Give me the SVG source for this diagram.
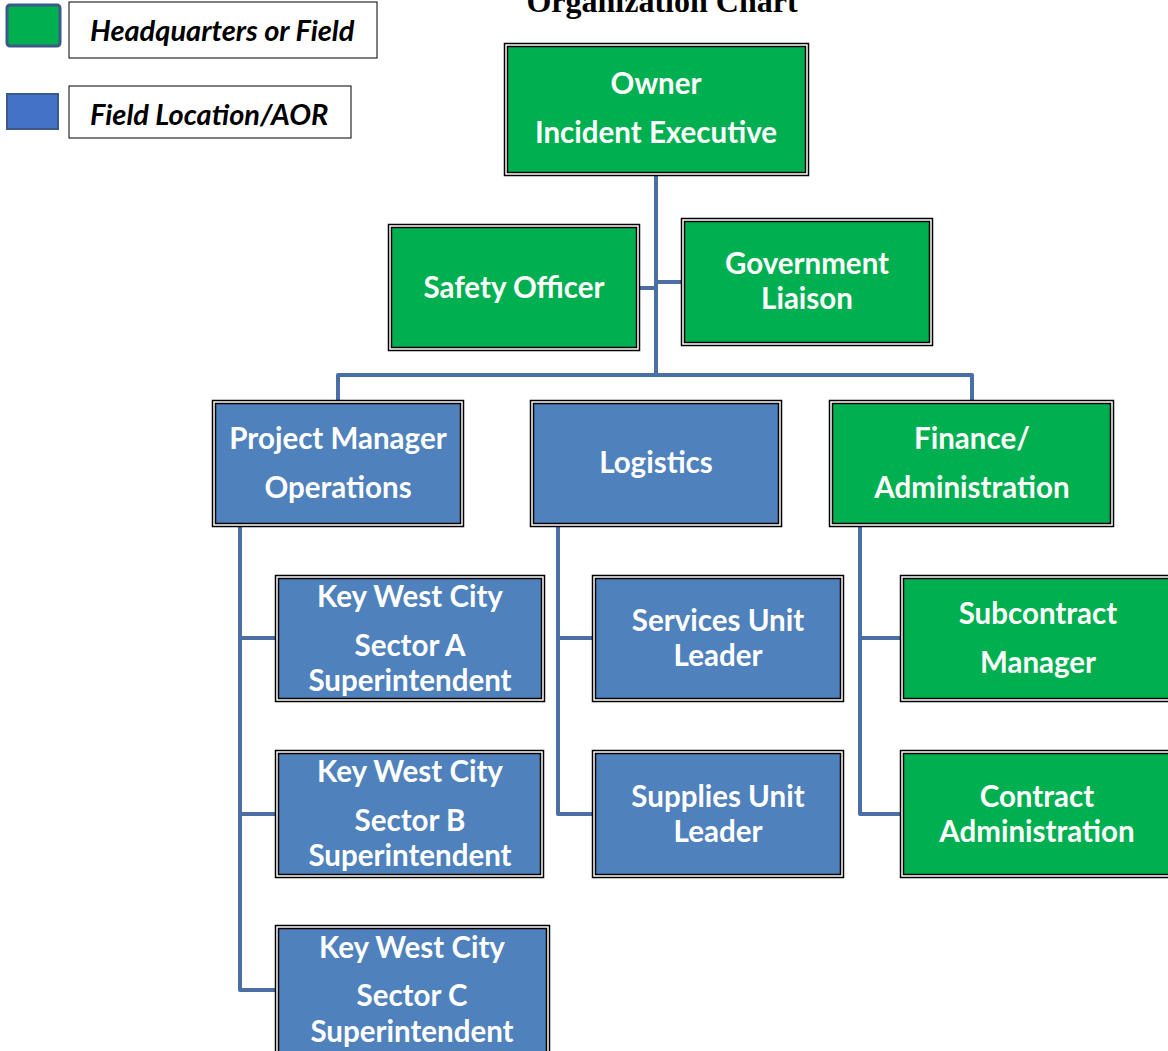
<svg xmlns="http://www.w3.org/2000/svg" width="1168" height="1051" viewBox="0 0 1168 1051">
<style>
.o{fill:#fff;stroke:#000;stroke-width:1.5}
.g{fill:#00b050;stroke:#000;stroke-width:1.5}
.b{fill:#4f81bd;stroke:#000;stroke-width:1.5}
.t{font-family:Lato,"Open Sans",sans-serif;font-weight:bold;font-size:29.5px;fill:#fff;text-anchor:middle}
.c{fill:none;stroke:#4a6fa5;stroke-width:4;stroke-linejoin:round}
.lg{font-family:Lato,"Open Sans",sans-serif;font-weight:bold;font-style:italic;font-size:29px;fill:#000}
.title{font-family:"Liberation Serif",serif;font-weight:bold;font-size:32px;fill:#000;text-anchor:middle}
</style>
<rect width="1168" height="1051" fill="#fff"/>
<text class="title" x="662" y="12">Organization Chart</text>
<g id="legend">
<rect x="7" y="5" width="53" height="41" rx="3" fill="#00b050" stroke="#3b5a87" stroke-width="3"/>
<rect x="69" y="2" width="308" height="56" fill="#fff" stroke="#000" stroke-width="1"/>
<text class="lg" x="90" y="41">Headquarters or Field</text>
<rect x="7" y="94" width="51" height="35" fill="#4472c4" stroke="#3b5a87" stroke-width="2"/>
<rect x="69" y="86" width="282" height="52" fill="#fff" stroke="#000" stroke-width="1"/>
<text class="lg" x="90" y="125">Field Location/AOR</text>
</g>
<g id="connectors">
<path class="c" d="M656 176V375M338 400V375H972V400M640 288H656M656 282H681"/>
<path class="c" d="M240 527V990H275M240 638H275M240 814H275"/>
<path class="c" d="M558 527V814H592M558 638H592"/>
<path class="c" d="M860 527V814H900M860 638H900"/>
</g>
<g id="owner">
<rect class="o" x="504.5" y="43.5" width="304" height="132"/>
<rect class="g" x="507.5" y="46.5" width="298" height="126"/>
<text class="t" x="656" y="94">Owner</text>
<text class="t" x="656" y="143">Incident Executive</text>
</g>
<g id="safety">
<rect class="o" x="388.5" y="224.5" width="251" height="126"/>
<rect class="g" x="391.5" y="227.5" width="245" height="120"/>
<text class="t" x="514" y="298">Safety Officer</text>
</g>
<g id="gov">
<rect class="o" x="681.5" y="218.5" width="251" height="127"/>
<rect class="g" x="684.5" y="221.5" width="245" height="121"/>
<text class="t" x="807" y="274">Government</text>
<text class="t" x="807" y="309">Liaison</text>
</g>
<g id="pm">
<rect class="o" x="212.5" y="400.5" width="251" height="126"/>
<rect class="b" x="215.5" y="403.5" width="245" height="120"/>
<text class="t" x="338" y="449">Project Manager</text>
<text class="t" x="338" y="498">Operations</text>
</g>
<g id="logistics">
<rect class="o" x="530.5" y="400.5" width="251" height="126"/>
<rect class="b" x="533.5" y="403.5" width="245" height="120"/>
<text class="t" x="656" y="473">Logistics</text>
</g>
<g id="finance">
<rect class="o" x="829.5" y="400.5" width="284" height="126"/>
<rect class="g" x="832.5" y="403.5" width="278" height="120"/>
<text class="t" x="972" y="449">Finance/</text>
<text class="t" x="972" y="498">Administration</text>
</g>
<g id="kwa">
<rect class="o" x="275.5" y="575.5" width="269" height="126"/>
<rect class="b" x="278.5" y="578.5" width="263" height="120"/>
<text class="t" x="410" y="607">Key West City</text>
<text class="t" x="410" y="656">Sector A</text>
<text class="t" x="410" y="691">Superintendent</text>
</g>
<g id="kwb">
<rect class="o" x="275.5" y="750.5" width="268" height="127"/>
<rect class="b" x="278.5" y="753.5" width="262" height="121"/>
<text class="t" x="410" y="782">Key West City</text>
<text class="t" x="410" y="831">Sector B</text>
<text class="t" x="410" y="866">Superintendent</text>
</g>
<g id="kwc">
<rect class="o" x="275.5" y="925.5" width="274" height="130"/>
<rect class="b" x="278.5" y="928.5" width="268" height="130"/>
<text class="t" x="412" y="958">Key West City</text>
<text class="t" x="412" y="1006">Sector C</text>
<text class="t" x="412" y="1042">Superintendent</text>
</g>
<g id="services">
<rect class="o" x="592.5" y="575.5" width="251" height="126"/>
<rect class="b" x="595.5" y="578.5" width="245" height="120"/>
<text class="t" x="718" y="631">Services Unit</text>
<text class="t" x="718" y="666">Leader</text>
</g>
<g id="supplies">
<rect class="o" x="592.5" y="750.5" width="251" height="127"/>
<rect class="b" x="595.5" y="753.5" width="245" height="121"/>
<text class="t" x="718" y="807">Supplies Unit</text>
<text class="t" x="718" y="842">Leader</text>
</g>
<g id="subcontract">
<rect class="o" x="900.5" y="575.5" width="280" height="126"/>
<rect class="g" x="903.5" y="578.5" width="274" height="120"/>
<text class="t" x="1038" y="624">Subcontract</text>
<text class="t" x="1038" y="673">Manager</text>
</g>
<g id="contract">
<rect class="o" x="900.5" y="750.5" width="280" height="127"/>
<rect class="g" x="903.5" y="753.5" width="274" height="121"/>
<text class="t" x="1037" y="807">Contract</text>
<text class="t" x="1037" y="842">Administration</text>
</g>
</svg>
